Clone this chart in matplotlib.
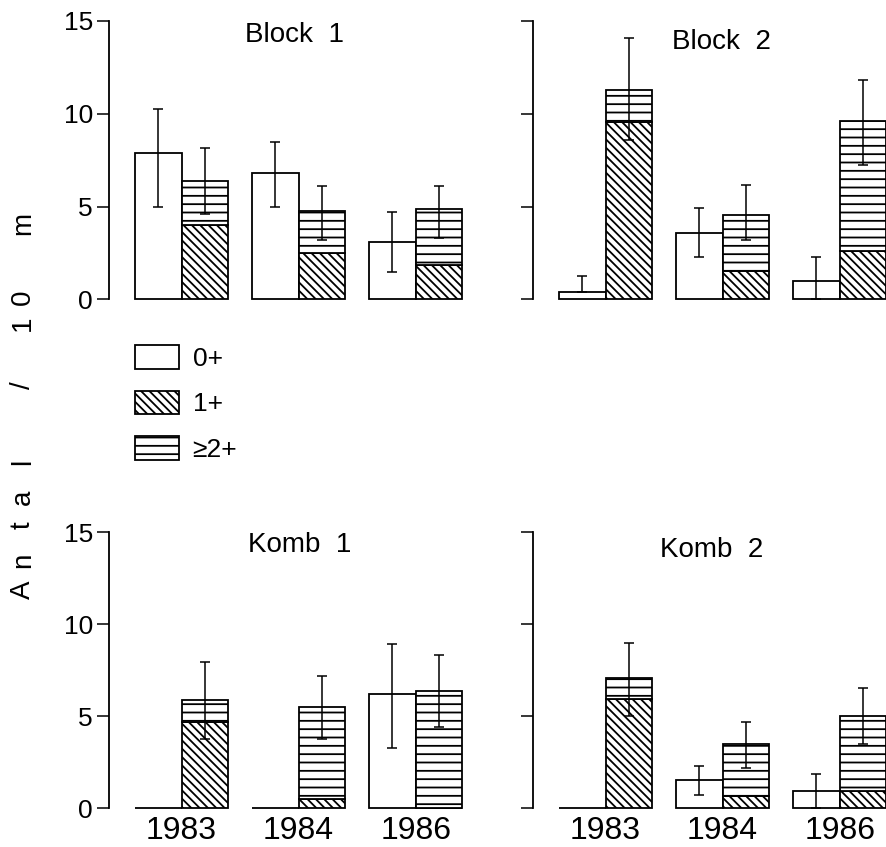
import numpy as np
import matplotlib
matplotlib.use("Agg")
import matplotlib.pyplot as plt
from matplotlib.patches import Patch

plt.rcParams['font.family'] = ['Liberation Sans', 'DejaVu Sans']
plt.rcParams['hatch.linewidth'] = 1.3

years = ["1983", "1984", "1986"]
panels = ["Block  1", "Block  2", "Komb  1", "Komb  2"]

# 0+ bars (mean) and the ends of their error bars
zero_plus = [[7.9, 6.8, 3.1], [0.43, 3.6, 1.02], [0.0, 0.0, 6.2], [0.0, 1.52, 0.92]]
zero_lo = [[5.0, 5.0, 1.47], [0.43, 2.3, 0.0], [np.nan, np.nan, 3.26], [np.nan, 0.7, 0.0]]
zero_hi = [[10.27, 8.5, 4.7], [1.24, 4.95, 2.3], [np.nan, np.nan, 8.9], [np.nan, 2.27, 1.84]]

# 1+ part and >=2+ part of the stacked bar, error bar ends on the total
one_plus = [[4.0, 2.5, 1.85], [9.57, 1.56, 2.6], [4.67, 0.49, 0.0], [5.95, 0.63, 0.92]]
two_plus = [[2.4, 2.25, 3.05], [1.73, 3.01, 7.03], [1.2, 5.0, 6.36], [1.13, 2.83, 4.1]]
tot_lo = [[4.6, 3.2, 3.3], [8.6, 3.23, 7.26], [3.75, 3.75, 4.4], [5.0, 2.2, 3.46]]
tot_hi = [[8.17, 6.13, 6.13], [14.1, 6.18, 11.8], [7.93, 7.17, 8.3], [8.97, 4.7, 6.53]]

W, H = 886, 847
fig = plt.figure(figsize=(W / 100, H / 100), dpi=100)

# axes boxes in pixels: left, top(15), bottom(0)
boxes = [(109, 21, 299.5), (533, 21, 299.5), (109, 532, 808), (533, 532, 808)]
ax_w = 371
title_pos = [(0.5, 0.95), (0.507, 0.926), (0.515, 0.953), (0.482, 0.935)]

w = 0.4
x = np.arange(len(years))
hatch_1 = '\\\\\\\\'
hatch_2 = '--'
ek = dict(fmt='none', ecolor='black', elinewidth=1.1, capsize=3.6, capthick=1.1)

for i, (l, t, b) in enumerate(boxes):
    ax = fig.add_axes([l / W, 1 - b / H, ax_w / W, (b - t) / H])
    z = np.array(zero_plus[i])
    o = np.array(one_plus[i])
    tw = np.array(two_plus[i])
    tot = o + tw

    ax.bar(x - w / 2, z, w, color='white', edgecolor='black', linewidth=1.3, clip_on=False)
    ax.bar(x + w / 2, o, w, color='white', edgecolor='black', linewidth=1.3,
           hatch=hatch_1, clip_on=False)
    ax.bar(x + w / 2, tw, w, bottom=o, color='white', edgecolor='black', linewidth=1.3,
           hatch=hatch_2, clip_on=False)

    zl = np.array(zero_lo[i]); zh = np.array(zero_hi[i])
    m = ~np.isnan(zl)
    ax.errorbar((x - w / 2)[m], z[m], yerr=[z[m] - zl[m], zh[m] - z[m]], **ek)
    tl = np.array(tot_lo[i]); th = np.array(tot_hi[i])
    ax.errorbar(x + w / 2, tot, yerr=[tot - tl, th - tot], **ek)

    ax.set_xlim(-0.62, 2.55)
    ax.set_ylim(0, 15)
    for s in ['top', 'right', 'bottom']:
        ax.spines[s].set_visible(False)
    ax.spines['left'].set_linewidth(1.3)
    ax.set_yticks([0, 5, 10, 15])
    ax.tick_params(axis='y', direction='out', length=8.5, width=1.1, labelsize=19, pad=3)
    if i % 2 == 1:
        ax.set_yticklabels([])
    ax.set_xticks(x)
    if i >= 2:
        ax.set_xticklabels(years, fontsize=23)
    else:
        ax.set_xticklabels([])
    ax.tick_params(axis='x', length=0, pad=6)
    ax.set_facecolor('none')
    ax.text(title_pos[i][0], title_pos[i][1], panels[i], transform=ax.transAxes,
            ha='center', va='center', fontsize=20)

handles = [Patch(facecolor='white', edgecolor='black', linewidth=1.3, label='0+'),
           Patch(facecolor='white', edgecolor='black', linewidth=1.3, hatch=hatch_1, label='1+'),
           Patch(facecolor='white', edgecolor='black', linewidth=1.3, hatch=hatch_2, label='≥2+')]
fig.legend(handles=handles, loc='upper left', bbox_to_anchor=(135 / W, 1 - 345 / H),
           frameon=False, fontsize=19, handlelength=1.68, handleheight=1.0,
           labelspacing=0.75, handletextpad=0.5, borderpad=0, borderaxespad=0)

# spaced vertical y label
ylab = list("Antal/10m")
ylab_pos = [590, 560, 525, 497, 462, 385, 323, 297, 223]
for ch, yp in zip(ylab, ylab_pos):
    fig.text(23 / W, 1 - yp / H, ch, rotation=90, ha='center', va='center', fontsize=20)

fig.savefig("out.png", dpi=100)
